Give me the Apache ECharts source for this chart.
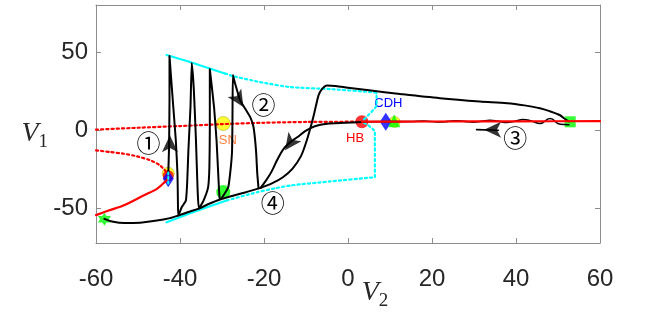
<!DOCTYPE html>
<html><head><meta charset="utf-8">
<script src="https://cdn.jsdelivr.net/npm/echarts@6/dist/echarts.min.js"></script>
<style>html,body{margin:0;padding:0;background:#fff}#c{width:664px;height:313px}</style>
</head><body><div id="c"></div>
<script>
// ---- axis ticks ----
const xTicks = [-60, -40, -20, 0, 20, 40, 60];
const yTicks = [-50, 0, 50];

// ---- equilibrium branches (red) ----
const redDottedUpper = [[-60,0.4],[-50,1.6],[-40,2.7],[-30,3.9],[-20,4.8],[-10,5.3],[3.3,5.5]];
const redSolidRight  = [[3.3,5.5],[20,5.6],[40,5.7],[60,5.8]];
const redDottedLower = [[-60,-12.8],[-56.7,-13.9],[-53.6,-14.9],[-50.2,-16.7],[-47.1,-19.2],[-44.8,-22.4],[-42.8,-28]];
const redSolidLower  = [[-60,-54.2],[-57,-51.3],[-53.5,-48.1],[-48.7,-41.7],[-45.5,-37.4],[-43.6,-33],[-42.8,-31]];

// ---- periodic orbit max/min (cyan) ----
const cyanTopSolid  = [[-43.2,48.1],[-37.6,43.6],[-32.9,39.4],[-29.3,36.3]];
const cyanTopDotted = [[-29.3,36.3],[-27.4,34.6],[-21,30.8],[-13.8,27.6],[-4.3,26.3],[5.2,24.4],[6.8,23.5],[6.8,16],[4.8,9.6],[3.3,5.5]];
const cyanBotSolid  = [[-43.2,-58.8],[-36.4,-51.9],[-28.9,-44.9]];
const cyanBotDotted = [[-28.9,-44.9],[-21.7,-39.6],[-17.4,-37.1],[-13.8,-35.3],[-4.3,-32.7],[5.2,-30.3],[6.4,-29.9],[6.4,-1.1],[4.8,3.2],[3.3,5.5]];
const cyanTiny      = [[-42.8,-27],[-42.8,-34.5]];

// ---- trajectories (black) ----
const bottomPath = [[-58,-56.6],[-56.2,-58.3],[-53.1,-59.3],[-49.5,-59],[-45.5,-57.7],[-42.4,-56.1],[-40.4,-54.5],[-37.6,-51.9],[-35.5,-50],[-32.9,-46.8],[-30.5,-44.2],[-28.1,-42.3],[-24.5,-39.7],[-20.8,-36.8]];
const spikePath = [[-42.8,-28],[-42.6,-10],[-42.5,20],[-42.5,47.4],
  [-42.2,36.3],[-41.6,15],[-41,-6.4],[-40.6,-27.8],[-40.5,-45],[-40.4,-54.5],
  [-39.6,-49.2],[-38.6,-44.9],[-38.3,-34],[-38,-12.8],[-37.5,15],[-37.2,43.1],
  [-36.7,25.6],[-36.2,-6.4],[-35.8,-38.5],[-35.5,-50],
  [-34.4,-44.9],[-33.3,-36.3],[-33,-23.5],[-32.9,0],[-32.9,38.9],
  [-31.9,15],[-31.3,-6.4],[-30.9,-27.8],[-30.6,-42.7],[-30.4,-44],
  [-29.5,-41],[-28.5,-36.3],[-27.9,-23.5],[-27.6,-12.8],[-27.5,10],[-27.4,35.3],
  [-26.9,30],[-25.7,19.2],[-24.5,13.9],[-23.3,8.5],[-22.5,2.1],[-21.9,-12.8],[-21.6,-27.8],[-21.3,-37]];
const upperPath = [[52.6,5.6],[51.5,7.5],[50.5,9.6],[48,12.2],[45.7,14.1],[42,15.9],[37.9,17.3],[31.4,18.4],[21.9,20.5],[12.4,23.2],[5,25.5],[0,27.2],[-3,28.3],[-5,28.6],[-6.3,26],[-7,22.4],[-7.6,16],[-8.3,8],[-9,1],[-10,-8],[-11.2,-16.5],[-13.2,-24.5],[-15.5,-30],[-18,-33.8],[-20.8,-36.8]];
const hbPath = [[3.3,5.3],[-0.7,4.8],[-5,4.2],[-7.9,2.6],[-10.2,-0.6],[-12.1,-4.5],[-13.8,-7.7],[-15.5,-12.5],[-16.9,-19.2],[-18.3,-26.9],[-19.5,-32],[-20.8,-36.8]];
const wavyPath = [[52.6,3.5],[50.5,3.8],[48.1,7.5],[45.7,4.3],[43.8,5.8],[41.7,6.9],[39.8,5.8],[37.8,5.0],[35.8,5.8],[33.8,6.4],[31.8,5.8],[29.8,5.2],[27.8,5.7],[25.8,6.1],[23.8,5.7],[21.8,5.3],[19.8,5.6],[17.8,5.9],[15,5.6],[10,5.5],[3.3,5.4]];
const arrow3Stem = [[30.6,0.4],[35.8,0]];

// ---- special points ----
const starPt = [[-58,-56.8]];
const lpYellow = [[-42.8,-27.4]];
const lpRed = [[-42.8,-29]];
const lpDiamond = [[-42.8,-31]];
const snPt = [[-29.7,4.3]];
const greenCircPt = [[-29.7,-39.5]];
const hbPt = [[3.3,5.5]];
const cdhPt = [[9,5.4]];
const yellowRight = [[11.1,5.3]];
const triPt = [[11,6.1]];
const squarePt = [[52.9,5.4]];

// ---- arrowheads: [x, y, rotation] ----
const arrowHeads = [[-42.4,-3.2,0],[-24.9,14.8,-148],[-15,-12.8,144],[32.4,0.35,90]];

// ---- text ----
const labelTexts = ['SN','HB','CDH'];
const labelPos = [[-28.6,-6.4],[1.7,-4.9],[9.6,17.1]];
const labelColors = ['#ff7f3f','#ff0000','#0000ff'];
const circTexts = ['①','②','③','④'];
const circPos = [[-47.5,-8],[-20.1,16],[39.8,-5.1],[-17.9,-46.2]];

const axisColor = '#8c8c8c';
const txtColor = '#262626';

function lineS(data, color, width, type, smooth) {
  return {type:'line', data, showSymbol:false, symbol:'none', smooth: smooth||false, silent:true,
    lineStyle:{color, width, type: type||'solid', cap:'round', join:'round'}, animation:false};
}
function ptS(data, symbol, size, color, extra) {
  return Object.assign({type:'scatter', data, symbol, symbolSize:size, silent:true, animation:false,
    itemStyle:{color}}, extra||{});
}
const dotted = [2.2, 3];
const star6 = 'path://M0,-10 L2.9,-5 L8.66,-5 L5.8,0 L8.66,5 L2.9,5 L0,10 L-2.9,5 L-8.66,5 L-5.8,0 L-8.66,-5 L-2.9,-5 Z';
const txtLab = (t, color, size, family) => ({show:true, position:'inside', formatter:t, color, fontSize:size,
  fontFamily:family, textBorderWidth:0, textBorderColor:'transparent', textShadowBlur:0, opacity:1});

const series = [
  lineS(cyanTopSolid, '#00ffff', 2.2, 'solid', 0.3),
  lineS(cyanTopDotted, '#00ffff', 2.2, dotted, 0.2),
  lineS(cyanBotSolid, '#00ffff', 2.2, 'solid', 0.3),
  lineS(cyanBotDotted, '#00ffff', 2.2, dotted, 0.2),
  lineS(redDottedUpper, '#ff0000', 2.2, dotted, 0.3),
  lineS(redDottedLower, '#ff0000', 2.2, dotted, 0.3),
  lineS(bottomPath, '#000', 2, 'solid', 0.3),
  lineS(spikePath, '#000', 2, 'solid', 0.15),
  lineS(upperPath, '#000', 2, 'solid', 0.3),
  lineS(hbPath, '#000', 2, 'solid', 0.3),
  lineS(wavyPath, '#000', 1.6, 'solid', 0.5),
  lineS(arrow3Stem, '#000', 1.6, 'solid', false),
  lineS(redSolidRight, '#ff0000', 2.2, 'solid', 0.3),
  lineS(redSolidLower, '#ff0000', 2.2, 'solid', 0.3),
  ptS(starPt, star6, 13, '#00ff00'),
  ptS(lpYellow, 'circle', 12, '#ffff00', {itemStyle:{color:'#ffff00', borderColor:'#999900', borderWidth:0.6}}),
  ptS(lpRed, 'circle', 11, '#ff0000'),
  ptS(lpDiamond, 'diamond', [11,17], '#0000ff'),
  lineS(cyanTiny, '#00ffff', 2, [2,2.5], false),
  ptS(snPt, 'circle', 14, '#ffff00', {itemStyle:{color:'#ffff00', borderColor:'#999900', borderWidth:0.6}}),
  ptS(greenCircPt, 'circle', 14, '#00ff00'),
  ptS(hbPt, 'circle', 13, '#ff0000'),
  ptS(yellowRight, 'circle', 11, '#ffff00', {itemStyle:{color:'#ffff00', borderColor:'#999900', borderWidth:0.6}}),
  ptS(cdhPt, 'diamond', [12,18], '#0000ff'),
  ptS(triPt, 'triangle', [12,13], '#00ff00'),
  ptS(squarePt, 'rect', 11, '#00ff00'),
  {type:'scatter', silent:true, animation:false,
   data: arrowHeads.map(a => ({value:[a[0],a[1]], symbolRotate:a[2]})),
   symbol:'arrow', symbolSize:[12,17], itemStyle:{color:'#000'}},
  {type:'scatter', silent:true, animation:false, symbolSize:1, itemStyle:{color:'rgba(255,255,255,0)'},
   data: labelTexts.map((t,i) => ({value:labelPos[i], label:txtLab(t, labelColors[i], 13, 'Liberation Sans')}))},
  {type:'scatter', silent:true, animation:false, symbolSize:1, itemStyle:{color:'rgba(255,255,255,0)'},
   data: circTexts.map((t,i) => ({value:circPos[i], label:txtLab(t, '#000', 24, 'Noto Sans CJK JP')}))}
];

const chart = echarts.init(document.getElementById('c'), null, {renderer:'canvas'});
chart.setOption({
  animation:false,
  grid:{left:96, right:64, top:5, bottom:70, containLabel:false, outerBoundsMode:'none'},
  xAxis:[{
    type:'value', min:-60, max:60, interval:20, position:'bottom',
    axisLine:{show:true, onZero:false, lineStyle:{color:axisColor, width:1}},
    axisTick:{show:true, inside:true, length:5, lineStyle:{color:axisColor}},
    splitLine:{show:false},
    axisLabel:{fontSize:24, color:txtColor, fontFamily:'Liberation Sans', margin:24, customValues:xTicks},
    name:'{v|V}{s|2}', nameLocation:'middle', nameGap:32, nameMoveOverlap:false,
    nameTextStyle:{padding:[0,0,0,54], rich:{
      v:{fontFamily:'Liberation Serif', fontStyle:'italic', fontSize:28, color:txtColor},
      s:{fontFamily:'Liberation Serif', fontSize:19, color:txtColor, padding:[17,0,0,0]}}}
  },{
    type:'value', min:-60, max:60, interval:20, position:'top',
    axisLine:{show:true, onZero:false, lineStyle:{color:axisColor, width:1}},
    axisTick:{show:true, inside:true, length:5, lineStyle:{color:axisColor}},
    axisLabel:{show:false}, splitLine:{show:false}
  }],
  yAxis:[{
    type:'value', min:-72, max:80, position:'left',
    axisLine:{show:true, onZero:false, lineStyle:{color:axisColor, width:1}},
    axisTick:{show:true, inside:true, length:5, lineStyle:{color:axisColor}, customValues:yTicks},
    splitLine:{show:false},
    axisLabel:{fontSize:24, color:txtColor, fontFamily:'Liberation Sans', margin:8, padding:[6,0,0,0], customValues:yTicks},
    name:'{v|V}{s|1}', nameLocation:'middle', nameGap:48, nameRotate:0, nameMoveOverlap:false,
    nameTextStyle:{padding:[20,0,0,0], rich:{
      v:{fontFamily:'Liberation Serif', fontStyle:'italic', fontSize:28, color:txtColor},
      s:{fontFamily:'Liberation Serif', fontSize:19, color:txtColor, padding:[17,0,0,0]}}}
  },{
    type:'value', min:-72, max:80, position:'right',
    axisLine:{show:true, onZero:false, lineStyle:{color:axisColor, width:1}},
    axisTick:{show:true, inside:true, length:5, lineStyle:{color:axisColor}, customValues:yTicks},
    axisLabel:{show:false}, splitLine:{show:false}
  }],
  series
});
</script></body></html>
